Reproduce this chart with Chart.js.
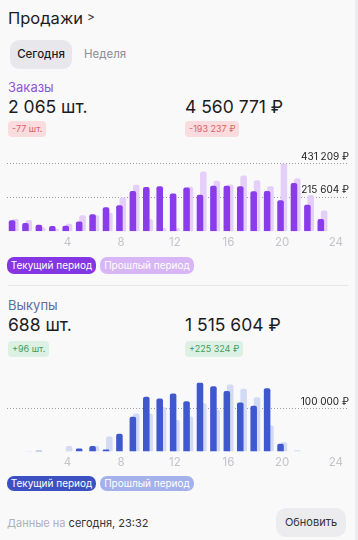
<!DOCTYPE html>
<html lang="ru">
<head>
<meta charset="utf-8">
<title>Продажи</title>
<script src="https://cdn.jsdelivr.net/npm/chart.js@4.4.1/dist/chart.umd.min.js"></script>
<style>
  html, body { margin: 0; padding: 0; }
  body { width: 358px; height: 540px; background: #ededf0; font-family: Inter, "Noto Sans", sans-serif; color: #1c1c1e; overflow: hidden; position: relative; }
  .card { position: absolute; left: 0; top: 0; width: 355px; height: 540px; background: #f9f9fa; }
  .abs { position: absolute; white-space: nowrap; }
  .title { left: 8px; top: 6px; font-size: 16.5px; line-height: 24px; }
  .chev { left: 87px; top: 7px; font-size: 12px; line-height: 20px; color: #333; }
  .tab { left: 10px; top: 40px; width: 62px; height: 29px; line-height: 29px; border-radius: 9px; background: #e8e8ec; font-size: 11.5px; font-weight: 500; text-align: center; }
  .tab2 { left: 84px; top: 40px; line-height: 29px; font-size: 11.5px; color: #8e8e94; }
  .label { left: 8px; font-size: 13px; line-height: 18px; }
  .big { font-size: 17.5px; line-height: 24px; }
  .badge { height: 16px; line-height: 16px; padding: 0 4px; border-radius: 4px; font-size: 9px; }
  .red { background: #fadcde; color: #df6068; }
  .green { background: #dcf1e4; color: #3e9d60; }
  .chartbox { left: 0; width: 358px; height: 108px; }
  .pill { height: 17px; line-height: 17px; border-radius: 7px; font-size: 10px; color: #fff; text-align: center; }
  .sep { left: 8px; top: 285px; width: 340px; height: 1px; background: #e6e6e9; }
  .foot { left: 7px; top: 514px; font-size: 11px; line-height: 18px; color: #333; }
  .btn { left: 276px; top: 508px; width: 70px; height: 29px; line-height: 29px; border-radius: 10px; background: #ececef; font-size: 11px; text-align: center; color: #333; }
</style>
</head>
<body>
<div class="card"></div>
<div class="abs title">Продажи</div>
<div class="abs chev">&gt;</div>
<div class="abs tab">Сегодня</div>
<div class="abs tab2">Неделя</div>

<div class="abs label" style="top:78px; color:#9157cf;">Заказы</div>
<div class="abs big" style="left:8px; top:95px;">2 065 шт.</div>
<div class="abs big" style="left:185px; top:95px;">4 560 771 ₽</div>
<div class="abs badge red" style="left:8px; top:121px;">-77 шт.</div>
<div class="abs badge red" style="left:185px; top:121px;">-193 237 ₽</div>
<div class="abs chartbox" style="top:146px;"><canvas id="chartZakazy"></canvas></div>
<div class="abs pill" style="left:7px; top:257px; width:89px; background:#8536e4;">Текущий период</div>
<div class="abs pill" style="left:100px; top:257px; width:94px; background:#d8b6f6;">Прошлый период</div>

<div class="abs sep"></div>

<div class="abs label" style="top:296px; color:#5d6c9c;">Выкупы</div>
<div class="abs big" style="left:8px; top:313px;">688 шт.</div>
<div class="abs big" style="left:185px; top:313px;">1 515 604 ₽</div>
<div class="abs badge green" style="left:8px; top:341px;">+96 шт.</div>
<div class="abs badge green" style="left:185px; top:341px;">+225 324 ₽</div>
<div class="abs chartbox" style="top:366px;"><canvas id="chartVykupy"></canvas></div>
<div class="abs pill" style="left:7px; top:476px; width:89px; height:15px; line-height:15px; background:#3d50c2;">Текущий период</div>
<div class="abs pill" style="left:100px; top:476px; width:94px; height:15px; line-height:15px; background:#a4b1ea;">Прошлый период</div>

<div class="abs foot"><span style="color:#b0b0b7;">Данные на</span> сегодня, 23:32</div>
<div class="abs btn">Обновить</div>

<script>
// часы (0..23)
const heures = [0, 1, 2, 3, 4, 5, 6, 7, 8, 9, 10, 11, 12, 13, 14, 15, 16, 17, 18, 19, 20, 21, 22, 23];
const ticksX = [4, 8, 12, 16, 20, 24];

// Заказы, ₽ по часам
const zakazyTekushchiy = [70000, 52000, 41000, 33000, 35000, 62000, 108000, 153000, 165000, 256000, 281000, 287000,
  240000, 278000, 232000, 290000, 290000, 287000, 254000, 256000, 197000, 307000, 169000, 78000];
const zakazyProshlyy = [78000, 72000, 25000, 15000, 47000, 102000, 102000, 117000, 214000, 296000, 78000, 21000,
  21000, 283000, 381000, 321000, 298000, 355000, 325000, 287000, 431209, 337000, 230000, 132000];
const zakazyTicks = [431209, 215604];

// Выкупы, ₽ по часам
const vykupyTekushchiy = [0, 0, 2000, 0, 0, 7000, 13000, 5000, 41500, 81500, 128000, 124000,
  136000, 118000, 161600, 153000, 141500, 115000, 107000, 148000, 18500, 0, 0, 0];
const vykupyProshlyy = [0, 1500, 0, 0, 13000, 0, 13000, 35500, 0, 89000, 89000, 104000,
  74000, 82000, 113000, 98000, 157000, 147000, 127000, 61500, 22000, 3000, 0, 0];
const vykupyTicks = [100000];

let charts = {};

function formatRub(v) {
  return v.toLocaleString('ru-RU') + ' ₽';
}

function creerGraphique(id, tekushchiy, proshlyy, yTicks, couleurs, padTop, padBottom) {
  const maxY = Math.max(...tekushchiy, ...proshlyy);
  const ctx = document.getElementById(id).getContext('2d');
  return new Chart(ctx, {
    type: 'bar',
    data: {
      labels: heures,
      datasets: [
        { label: 'Текущий период', data: tekushchiy, backgroundColor: couleurs[0], order: 0,
          borderRadius: { topLeft: 2, topRight: 2 }, borderSkipped: 'start',
          categoryPercentage: 0.5, barPercentage: 1.95 },
        { label: 'Прошлый период', data: proshlyy, backgroundColor: couleurs[1], order: 1,
          borderRadius: { topLeft: 2, topRight: 2 }, borderSkipped: 'start',
          categoryPercentage: 0.5, barPercentage: 1.95 }
      ]
    },
    options: {
      responsive: true,
      maintainAspectRatio: false,
      animation: false,
      layout: { padding: { left: 7, right: 8, top: padTop, bottom: padBottom } },
      plugins: { legend: { display: false }, tooltip: { enabled: false } },
      scales: {
        x: {
          type: 'linear',
          offset: false,
          min: -0.5,
          max: 24.9,
          afterBuildTicks: s => { s.ticks = ticksX.map(v => ({ value: v })); },
          grid: { display: false, drawTicks: false },
          border: { display: false },
          ticks: { color: '#c3c3ca', font: { family: 'Inter', size: 11.5 }, padding: 4 }
        },
        y: {
          position: 'right',
          min: 0,
          max: maxY,
          afterBuildTicks: s => { s.ticks = yTicks.map(v => ({ value: v })); },
          grid: { color: '#9c9ca2', lineWidth: 1, drawTicks: false },
          border: { display: false, dash: [1, 2] },
          ticks: {
            mirror: true, padding: 1, labelOffset: -7, z: 1,
            color: '#222', font: { family: 'Inter', size: 10 },
            callback: v => formatRub(v)
          }
        }
      }
    }
  });
}

charts.zakazy = creerGraphique('chartZakazy', zakazyTekushchiy, zakazyProshlyy, zakazyTicks, ['#8a3cea', '#e4cff8'], 17.5, 1);
charts.vykupy = creerGraphique('chartVykupy', vykupyTekushchiy, vykupyProshlyy, vykupyTicks, ['#4058cd', '#d3daf3'], 16.5, 0.6);
</script>
</body>
</html>
